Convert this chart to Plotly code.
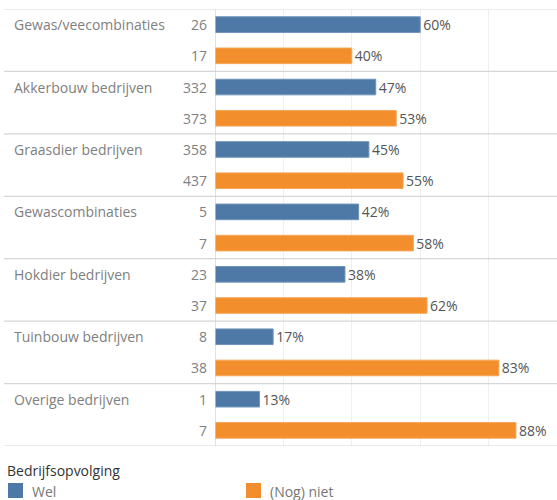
import plotly.graph_objects as go

# Farm types and counts / shares per succession status
groups = ["Gewas/veecombinaties", "Akkerbouw bedrijven", "Graasdier bedrijven",
          "Gewascombinaties", "Hokdier bedrijven", "Tuinbouw bedrijven",
          "Overige bedrijven"]
wel_count = [26, 332, 358, 5, 23, 8, 1]
niet_count = [17, 373, 437, 7, 37, 38, 7]
wel_pct = [60, 47, 45, 42, 38, 17, 13]
niet_pct = [40, 53, 55, 58, 62, 83, 88]
series_names = ["Wel", "(Nog) niet"]
legend_title = "Bedrijfsopvolging"

BLUE = "#4e79a7"
ORANGE = "#f28e2b"
FONT = "Open Sans"
FS = 14

W, H = 557, 500
ML, MR, MT, MB = 215, 0, 9, 54
plot_w = W - ML - MR
plot_h = H - MT - MB

n = len(groups)
y_wel = [2 * i for i in range(n)]
y_niet = [2 * i + 1 for i in range(n)]

fig = go.Figure()
for name, ys, vals, color, edge in [
    (series_names[0], y_wel, wel_pct, BLUE, "#6f93bb"),
    (series_names[1], y_niet, niet_pct, ORANGE, "#f5a75a"),
]:
    fig.add_trace(go.Bar(
        x=vals, y=ys, orientation="h", name=name, width=0.5,
        marker=dict(color=color, line=dict(color=edge, width=1)),
        text=[f"{v}%" for v in vals], textposition="outside",
        constraintext="none",
        textfont=dict(family=FONT, size=FS, color="#555555"),
        cliponaxis=False, showlegend=False, hoverinfo="skip",
    ))

shapes = []
annotations = []

# horizontal row separators spanning the label columns
left_px = 4
x0_paper = (left_px - ML) / plot_w
for k in range(n + 1):
    yv = 2 * k - 0.5
    shapes.append(dict(type="line", xref="paper", yref="y", x0=x0_paper, x1=1,
                       y0=yv, y1=yv, line=dict(color="#d6d6d6", width=1.2),
                       layer="above"))

# row labels: group names and counts
for i, g in enumerate(groups):
    annotations.append(dict(xref="paper", yref="y", x=0, y=y_wel[i], text=g,
                            xanchor="left", xshift=12 - ML, showarrow=False,
                            font=dict(family=FONT, size=FS, color="#808080")))
    annotations.append(dict(xref="paper", yref="y", x=0, y=y_wel[i],
                            text=str(wel_count[i]), xanchor="right", xshift=-6,
                            showarrow=False,
                            font=dict(family=FONT, size=FS, color="#808080")))
    annotations.append(dict(xref="paper", yref="y", x=0, y=y_niet[i],
                            text=str(niet_count[i]), xanchor="right", xshift=-6,
                            showarrow=False,
                            font=dict(family=FONT, size=FS, color="#808080")))

# legend drawn below the chart
def px_x(px):
    return (px - ML) / plot_w

def px_y(py):
    return (H - MB - py) / plot_h

annotations.append(dict(xref="paper", yref="paper", x=px_x(5), y=px_y(470),
                        text=legend_title, xanchor="left", yanchor="middle",
                        showarrow=False,
                        font=dict(family=FONT, size=FS, color="#333333")))
for name, color, sx in [(series_names[0], BLUE, 8), (series_names[1], ORANGE, 246)]:
    shapes.append(dict(type="rect", xref="paper", yref="paper",
                       x0=px_x(sx), x1=px_x(sx + 15), y0=px_y(483), y1=px_y(498),
                       fillcolor=color, line=dict(width=0)))
    annotations.append(dict(xref="paper", yref="paper", x=px_x(sx + 22),
                            y=px_y(491), text=name, xanchor="left",
                            yanchor="middle", showarrow=False,
                            font=dict(family=FONT, size=FS, color="#777777")))

fig.update_layout(
    width=W, height=H,
    margin=dict(l=ML, r=MR, t=MT, b=MB),
    plot_bgcolor="white", paper_bgcolor="white",
    barmode="overlay",
    xaxis=dict(range=[0, 100], tickvals=[20, 40, 60, 80], showticklabels=False,
               showgrid=True, gridcolor="#efefef", gridwidth=1,
               zeroline=False, showline=False, fixedrange=True),
    yaxis=dict(range=[2 * n - 0.5, -0.5], showticklabels=False, showgrid=False,
               zeroline=False, showline=False, fixedrange=True),
    shapes=shapes + [dict(type="line", xref="x", yref="paper", x0=0, x1=0,
                          y0=0, y1=1, line=dict(color="#cfcfcf", width=1.2),
                          layer="above")],
    annotations=annotations,
    font=dict(family=FONT),
)

fig.write_html("out.html")
